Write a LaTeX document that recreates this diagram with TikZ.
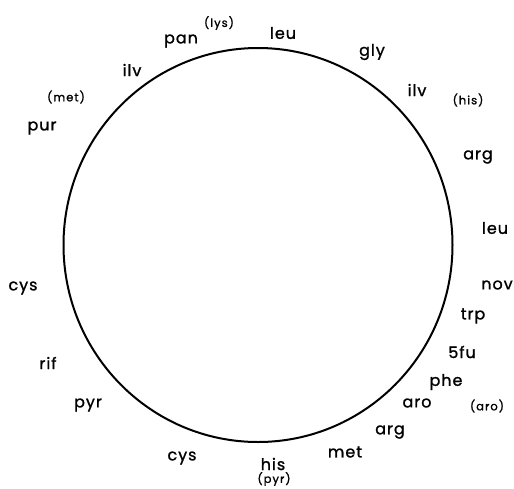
\documentclass[tikz,border=0pt]{standalone}
\usepackage{fontspec}
\setmainfont[LetterSpace=6,FakeBold=1.2]{Poppins}
\usepackage{tikz}
\usetikzlibrary{positioning}

\begin{document}
\begin{tikzpicture}[x=1pt, y=-1pt,
    every node/.style={inner sep=0pt},
    mk/.style={font=\fontsize{16}{16}\selectfont},
    sub/.style={font=\fontsize{11.5}{11.5}\selectfont\addfontfeature{LetterSpace=9}}]
  \useasboundingbox (0,0) rectangle (514,488);
  % ---------- chromosome ----------
  \draw[line width=2pt] (258,245) ellipse (194.5pt and 197pt);
  % ---------- markers, clockwise from top ----------
  \node[mk] (leuA) at (283,33) {leu};
  \node[mk] (gly)  at (372,52) {gly};
  \node[mk] (ilvB) at (417,90) {ilv};
  \node[sub] (hisB) at (468,100) {(his)};
  \node[mk] (argA) at (478,157) {arg};
  \node[mk] (leuB) at (495,228) {leu};
  \node[mk] (nov)  at (497,285) {nov};
  \node[mk] (trp)  at (473,316) {trp};
  \node[mk] (fu)   at (462,352) {5fu};
  \node[mk] (phe)  at (446,382) {phe};
  \node[mk] (aroA) at (417,403) {aro};
  \node[sub] (aroB) at (487,406) {(aro)};
  \node[mk] (argB) at (390,432) {arg};
  \node[mk] (metA) at (345,452) {met};
  \node[mk] (hisA) at (273,464) {his};
  \node[sub] (pyrB) at (274,479) {(pyr)};
  \node[mk] (cysB) at (182,458) {cys};
  \node[mk] (pyrA) at (88,405)  {pyr};
  \node[mk] (rif)  at (48,363)  {rif};
  \node[mk] (cysA) at (23,288)  {cys};
  \node[mk] (pur)  at (42,128)  {pur};
  \node[sub] (metB) at (66,97)  {(met)};
  \node[mk] (ilvA) at (132,70)  {ilv};
  \node[mk] (pan)  at (181,41)  {pan};
  \node[sub] (lys)  at (219,23)  {(lys)};
\end{tikzpicture}
\end{document}
